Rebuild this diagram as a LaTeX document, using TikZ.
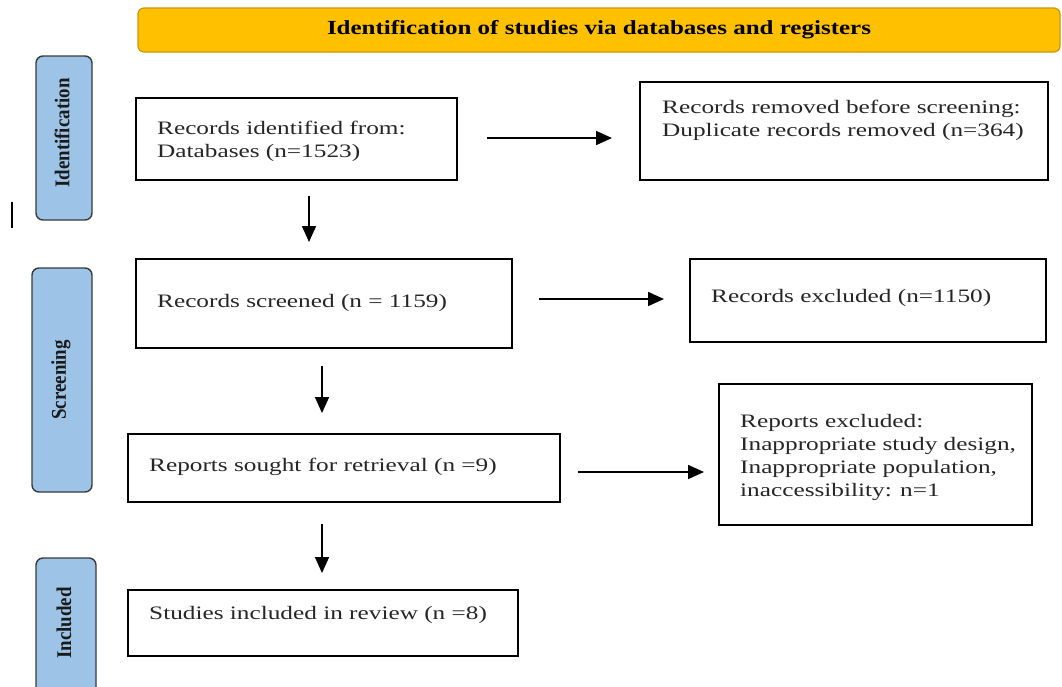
\documentclass[tikz,border=0pt]{standalone}
\usepackage{fontspec}
\setmainfont{Liberation Serif}
\newfontfamily\widefont[FakeStretch=1.33]{Liberation Serif}
\newfontfamily\bannerfont[FakeStretch=1.25]{Liberation Serif}
\newfontfamily\phasefont[FakeStretch=0.9]{Liberation Serif}
\usetikzlibrary{arrows.meta}
\definecolor{bannerfill}{HTML}{FFC000}
\definecolor{bannerline}{HTML}{C9980A}
\definecolor{phasefill}{HTML}{9DC3E6}
\definecolor{phaseline}{HTML}{3A3A3A}
\definecolor{phasetext}{HTML}{1A1A1A}
\tikzset{
  box/.style={draw=black, line width=1.2pt, fill=white},
  txt/.style={anchor=west, align=left, inner sep=0pt, font=\widefont\fontsize{19}{23}\selectfont, text=black!85},
  phase/.style={draw=phaseline, line width=1.4pt, fill=phasefill, rounded corners=7pt},
  phasetxt/.style={rotate=90, font=\phasefont\bfseries\fontsize{21}{22}\selectfont, inner sep=0pt, text=phasetext},
  arr/.style={-{Triangle[length=16pt,width=14pt]}, line width=1.6pt},
}
\begin{document}
\begin{tikzpicture}[x=1pt,y=-1pt]
\useasboundingbox (0,0) rectangle (1062,686);
% banner
\node[draw=bannerline, line width=1.2pt, fill=bannerfill, rounded corners=6pt,
  minimum width=922pt, minimum height=44pt, inner sep=0pt] (banner) at (599,30)
  {\bannerfont\bfseries\fontsize{20}{22}\selectfont Identification of studies via databases and registers};
% phases
\node[phase, minimum width=56pt, minimum height=164pt] (pid) at (64,138) {};
\node[phasetxt] (lid) at (62,133) {Identification};
\node[phase, minimum width=60pt, minimum height=224pt] (pscr) at (62,380) {};
\node[phasetxt] (lscr) at (61,380) {Screening};
\node[phase, minimum width=60pt, minimum height=140pt] (pinc) at (66,628) {};
\node[phasetxt] (linc) at (64,623) {Included};
% stray mark
\coordinate (s1) at (12,202); \coordinate (s2) at (12,228);
\draw[line width=1.3pt] (s1) -- (s2);
% boxes
\node[box, minimum width=321pt, minimum height=82pt] (b1) at (296.5,139) {};
\node[txt] (t1) at (157,141) {Records identified from:\\Databases (n=1523)};
\node[box, minimum width=408pt, minimum height=98pt] (b2) at (844,131) {};
\node[txt] (t2) at (662,120) {Records removed before screening:\\Duplicate records removed (n=364)};
\node[box, minimum width=376pt, minimum height=89pt] (b3) at (324,303.5) {};
\node[txt] (t3) at (157,303) {Records screened (n = 1159)};
\node[box, minimum width=356pt, minimum height=83pt] (b4) at (868,300.5) {};
\node[txt] (t4) at (711,298) {Records excluded (n=1150)};
\node[box, minimum width=432pt, minimum height=68pt] (b5) at (344,468) {};
\node[txt] (t5) at (149,467) {Reports sought for retrieval (n =9)};
\node[box, minimum width=313pt, minimum height=141pt] (b6) at (875.5,454.5) {};
\node[txt] (t6) at (740,457) {Reports excluded:\\Inappropriate study design,\\Inappropriate population,\\inaccessibility: n=1};
\node[box, minimum width=390pt, minimum height=66pt] (b7) at (323,623) {};
\node[txt] (t7) at (149,615) {Studies included in review (n =8)};
% arrows
\coordinate (a1s) at (487,138); \coordinate (a1e) at (612,138);
\draw[arr] (a1s) -- (a1e);
\coordinate (a2s) at (309,196); \coordinate (a2e) at (309,242);
\draw[arr] (a2s) -- (a2e);
\coordinate (a3s) at (539,299); \coordinate (a3e) at (664,299);
\draw[arr] (a3s) -- (a3e);
\coordinate (a4s) at (322,366); \coordinate (a4e) at (322,413);
\draw[arr] (a4s) -- (a4e);
\coordinate (a5s) at (578,472); \coordinate (a5e) at (704,472);
\draw[arr] (a5s) -- (a5e);
\coordinate (a6s) at (322,524); \coordinate (a6e) at (322,573);
\draw[arr] (a6s) -- (a6e);
\end{tikzpicture}
\end{document}
